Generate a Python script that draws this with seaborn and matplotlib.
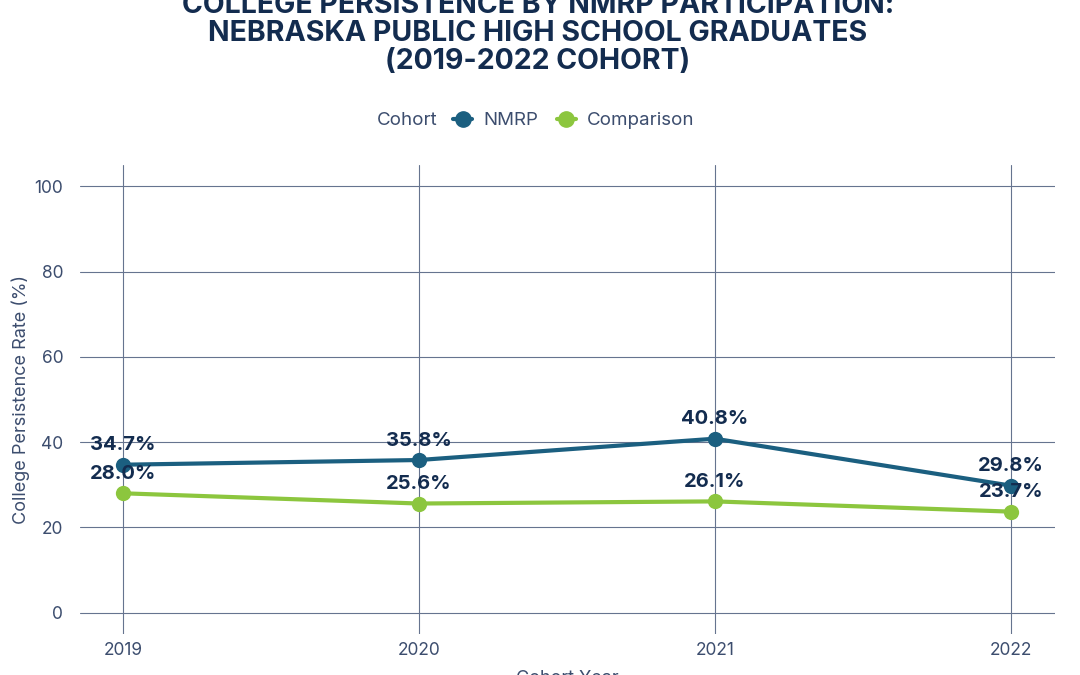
import pandas as pd
import matplotlib.pyplot as plt
import seaborn as sns
from matplotlib.lines import Line2D

sns.set_style("white")
plt.rcParams['font.family'] = ['Inter', 'DejaVu Sans']

# --- data ---
years = [2019, 2020, 2021, 2022]
nmrp_rate = [34.7, 35.8, 40.8, 29.8]
comparison_rate = [28.0, 25.6, 26.1, 23.7]
cohorts = ['NMRP', 'Comparison']

df = pd.DataFrame({
    'Cohort Year': years * 2,
    'Rate': nmrp_rate + comparison_rate,
    'Cohort': ['NMRP'] * len(years) + ['Comparison'] * len(years),
})

palette = {'NMRP': '#1b5f80', 'Comparison': '#8cc63e'}
navy = '#132c4f'
tick_col = '#3c4d6e'
grid_col = '#66748f'

fig = plt.figure(figsize=(10.8, 6.75), dpi=100)
ax = fig.add_axes([0.074, 0.0607, 0.903, 0.695])

sns.lineplot(data=df, x='Cohort Year', y='Rate', hue='Cohort', hue_order=cohorts,
             palette=palette, marker='o', markersize=11, markeredgewidth=0,
             linewidth=3, legend=False, ax=ax)

# value labels above each point
for _, row in df.iterrows():
    ax.annotate(f"{row['Rate']:.1f}%", (row['Cohort Year'], row['Rate']),
                xytext=(0, 14), textcoords='offset points', ha='center', va='center',
                fontsize=14.5, fontweight='bold', color=navy)

ax.set_xlim(2018.855, 2022.15)
ax.set_ylim(-5, 105)
ax.set_xticks(years)
ax.set_yticks([0, 20, 40, 60, 80, 100])
ax.grid(True, color=grid_col, linewidth=0.8)
for s in ax.spines.values():
    s.set_visible(False)
ax.tick_params(axis='both', length=0, labelsize=12.5, colors=tick_col)
ax.tick_params(axis='y', pad=12)
ax.tick_params(axis='x', pad=6)
ax.set_xlabel('Cohort Year', fontsize=13, color=tick_col, labelpad=8)
ax.set_ylabel('College Persistence Rate (%)', fontsize=13, color=tick_col, labelpad=3)

# title (top cut off as in the original)
fig.text(0.498, 1.012, 'COLLEGE PERSISTENCE BY NMRP PARTICIPATION:\n'
         'NEBRASKA PUBLIC HIGH SCHOOL GRADUATES\n(2019-2022 COHORT)',
         ha='center', va='top', fontsize=20.5, fontweight='bold', color=navy,
         linespacing=1.06)

# legend in one row with inline title
fig.text(0.349, 0.821, 'Cohort', ha='left', va='center', fontsize=13.5, color=tick_col)
handles = [Line2D([], [], color=palette[c], marker='o', markersize=11, linewidth=3)
           for c in cohorts]
leg = fig.legend(handles, cohorts, loc='center left', bbox_to_anchor=(0.411, 0.821),
                 ncol=2, frameon=False, fontsize=13.5, handlelength=1.0,
                 handletextpad=0.6, columnspacing=1.0, borderpad=0)
for t in leg.get_texts():
    t.set_color(tick_col)

plt.savefig('out.png', dpi=100)
